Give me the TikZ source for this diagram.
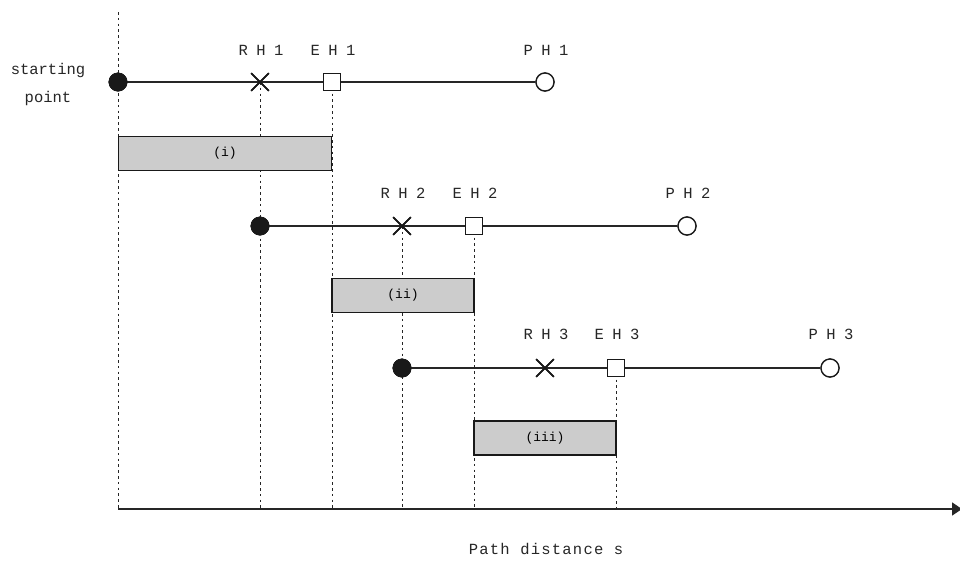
\documentclass[tikz,border=0pt]{standalone}
\usepackage{fontspec}
\setmainfont{Liberation Mono}
\newfontfamily\lblfont[LetterSpace=55]{Liberation Mono}
\newfontfamily\axfont[LetterSpace=8]{Liberation Mono}
\usetikzlibrary{shapes.misc,arrows.meta}
\begin{document}
\begin{tikzpicture}[x=1pt,y=-1pt,
  guide/.style={draw=black!85,line width=0.95pt,dash pattern=on 2.6pt off 3.2pt},
  track/.style={draw=black!85,line width=2pt},
  startpt/.style={circle,fill=black!90,draw=black!90,minimum size=18.5pt,inner sep=0pt},
  rhmark/.style={cross out,draw=black!90,line width=1.7pt,minimum size=16pt,inner sep=0pt},
  ehmark/.style={rectangle,draw=black!90,fill=white,line width=1.3pt,minimum size=17pt,inner sep=0pt},
  phmark/.style={circle,draw=black!90,fill=white,line width=1.3pt,minimum size=18pt,inner sep=0pt},
  hlabel/.style={font=\fontsize{15.5}{18}\lblfont,text=black!85,inner sep=0pt},
  phase/.style={rectangle,draw=black!90,fill=black!20,line width=1.4pt,inner sep=0pt,font=\fontsize{13}{15}\selectfont},
  txt/.style={font=\fontsize{15.5}{28}\selectfont,text=black!85,inner sep=0pt}]
\useasboundingbox (0,0) rectangle (960,571);

\coordinate (top) at (118,12);
\coordinate (axisL) at (118,509);
\coordinate (axisR) at (962,509);

% row 1
\node[startpt] (s1) at (118,82) {};
\node[rhmark] (rh1) at (260,82) {};
\node[ehmark] (eh1) at (332,82) {};
\node[phmark] (ph1) at (545,82) {};
% row 2
\node[startpt] (s2) at (260,226) {};
\node[rhmark] (rh2) at (402,226) {};
\node[ehmark] (eh2) at (474,226) {};
\node[phmark] (ph2) at (687,226) {};
% row 3
\node[startpt] (s3) at (402,368) {};
\node[rhmark] (rh3) at (545,368) {};
\node[ehmark] (eh3) at (616,368) {};
\node[phmark] (ph3) at (830,368) {};

% guides
\path[guide] (top) -- (axisL);
\path[guide] (rh1.center) -- (rh1.center |- axisL);
\path[guide] (eh1.center) -- (eh1.center |- axisL);
\path[guide] (rh2.center) -- (rh2.center |- axisL);
\path[guide] (eh2.center) -- (eh2.center |- axisL);
\path[guide] (eh3.center) -- (eh3.center |- axisL);

% phase boxes
\node[phase,minimum width=213pt,minimum height=34pt] (b1) at (225,153.5) {(i)};
\node[phase,minimum width=142pt,minimum height=34pt] (b2) at (403,295.5) {(ii)};
\node[phase,minimum width=142pt,minimum height=34pt] (b3) at (545,438) {(iii)};

% tracks
\path[track] (s1.center) -- (ph1.west);
\path[track] (s2.center) -- (ph2.west);
\path[track] (s3.center) -- (ph3.west);

% markers on top
\node[startpt] at (s1) {};
\node[rhmark] at (rh1) {};
\node[ehmark] at (eh1) {};
\node[phmark] at (ph1) {};
\node[startpt] at (s2) {};
\node[rhmark] at (rh2) {};
\node[ehmark] at (eh2) {};
\node[phmark] at (ph2) {};
\node[startpt] at (s3) {};
\node[rhmark] at (rh3) {};
\node[ehmark] at (eh3) {};
\node[phmark] at (ph3) {};

% labels
\node[hlabel] (lrh1) at (261,50) {RH1};
\node[hlabel] (leh1) at (333,50) {EH1};
\node[hlabel] (lph1) at (546,50) {PH1};
\node[hlabel] (lrh2) at (403,193) {RH2};
\node[hlabel] (leh2) at (475,193) {EH2};
\node[hlabel] (lph2) at (688,193) {PH2};
\node[hlabel] (lrh3) at (546,334) {RH3};
\node[hlabel] (leh3) at (617,334) {EH3};
\node[hlabel] (lph3) at (831,334) {PH3};

\node[txt,align=center] (start) at (48,84) {starting\\point};

% axis
\draw[draw=black!85,line width=1.6pt,-{Triangle[length=10pt,width=13pt]}] (axisL) -- (axisR);
\node[txt,font=\fontsize{15.5}{18}\axfont] (xlabel) at (546,549) {Path distance s};
\end{tikzpicture}
\end{document}
